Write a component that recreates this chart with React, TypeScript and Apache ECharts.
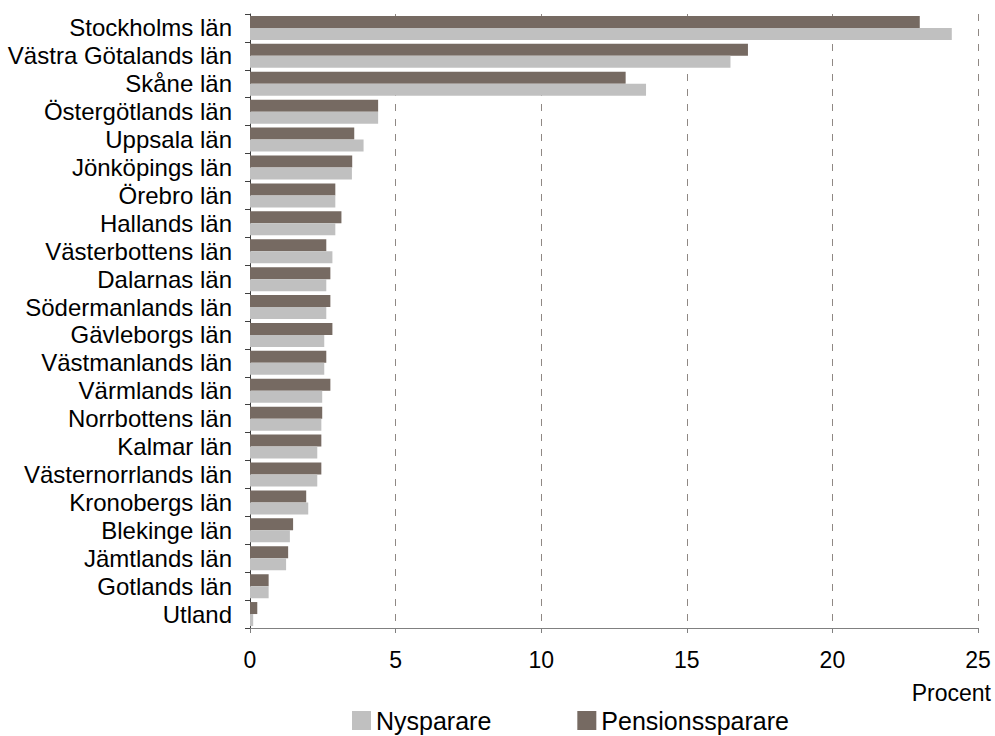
import React, { useEffect, useRef } from "react";
import * as echarts from "echarts";

const categories = [
  "Stockholms län",
  "Västra Götalands län",
  "Skåne län",
  "Östergötlands län",
  "Uppsala län",
  "Jönköpings län",
  "Örebro län",
  "Hallands län",
  "Västerbottens län",
  "Dalarnas län",
  "Södermanlands län",
  "Gävleborgs län",
  "Västmanlands län",
  "Värmlands län",
  "Norrbottens län",
  "Kalmar län",
  "Västernorrlands län",
  "Kronobergs län",
  "Blekinge län",
  "Jämtlands län",
  "Gotlands län",
  "Utland",
];

const nysparare = [
  24.1, 16.5, 13.6, 4.4, 3.9, 3.5, 2.93, 2.93, 2.83, 2.62, 2.62, 2.55, 2.55,
  2.48, 2.45, 2.31, 2.31, 2.0, 1.37, 1.24, 0.64, 0.11,
];

const pensionssparare = [
  23.0, 17.1, 12.9, 4.4, 3.58, 3.51, 2.93, 3.14, 2.62, 2.76, 2.76, 2.83, 2.62,
  2.76, 2.48, 2.45, 2.45, 1.93, 1.48, 1.31, 0.64, 0.25,
];

const xTicks = { min: 0, max: 25, interval: 5 };

const FONT = "'Liberation Sans', Arial, sans-serif";
const DARK = "#766a62";
const LIGHT = "#c0c0c0";

export default function App() {
  const ref = useRef<HTMLDivElement>(null);

  useEffect(() => {
    if (!ref.current) return;
    const chart = echarts.init(ref.current, null, { renderer: "svg" });
    chart.setOption({
      animation: false,
      textStyle: { fontFamily: FONT, color: "#000" },
      grid: { left: 250, right: 17, top: 14, bottom: 108, containLabel: false },
      legend: {
        data: ["Nysparare", "Pensionssparare"],
        left: 352,
        top: 708,
        icon: "rect",
        itemWidth: 19,
        itemHeight: 19,
        itemGap: 86,
        padding: 0,
        textStyle: {
          fontSize: 25,
          lineHeight: 22,
          color: "#000",
          fontFamily: FONT,
          padding: [0, 0, 0, 0],
        },
      },
      xAxis: {
        type: "value",
        min: xTicks.min,
        max: xTicks.max,
        interval: xTicks.interval,
        axisLine: { show: true, lineStyle: { color: "#808080", width: 1 } },
        axisTick: { show: true, length: 5, lineStyle: { color: "#808080" } },
        axisLabel: { fontSize: 23, color: "#000", margin: 20, fontFamily: FONT },
        splitLine: {
          show: true,
          lineStyle: { color: "#8f8884", type: [7, 8], width: 1 },
        },
      },
      yAxis: {
        type: "category",
        data: categories,
        inverse: true,
        axisLine: { show: true, lineStyle: { color: "#404040", width: 1 } },
        axisTick: { show: true, length: 5, alignWithLabel: false, lineStyle: { color: "#404040" } },
        axisLabel: {
          interval: 0,
          fontSize: 24,
          color: "#000",
          margin: 18,
          fontFamily: FONT,
        },
        splitLine: { show: false },
      },
      graphic: [
        {
          type: "text",
          right: 4,
          top: 681,
          style: { text: "Procent", fontSize: 23, fill: "#000", fontFamily: FONT },
        },
      ],
      series: [
        {
          name: "Pensionssparare",
          type: "bar",
          data: pensionssparare,
          itemStyle: { color: DARK },
          barGap: "0%",
          barCategoryGap: "14%",
        },
        {
          name: "Nysparare",
          type: "bar",
          data: nysparare,
          itemStyle: { color: LIGHT },
          barGap: "0%",
          barCategoryGap: "14%",
        },
      ],
    });
    return () => chart.dispose();
  }, []);

  return <div ref={ref} style={{ width: 995, height: 736, position: "absolute", left: 0, top: 0 }} />;
}
